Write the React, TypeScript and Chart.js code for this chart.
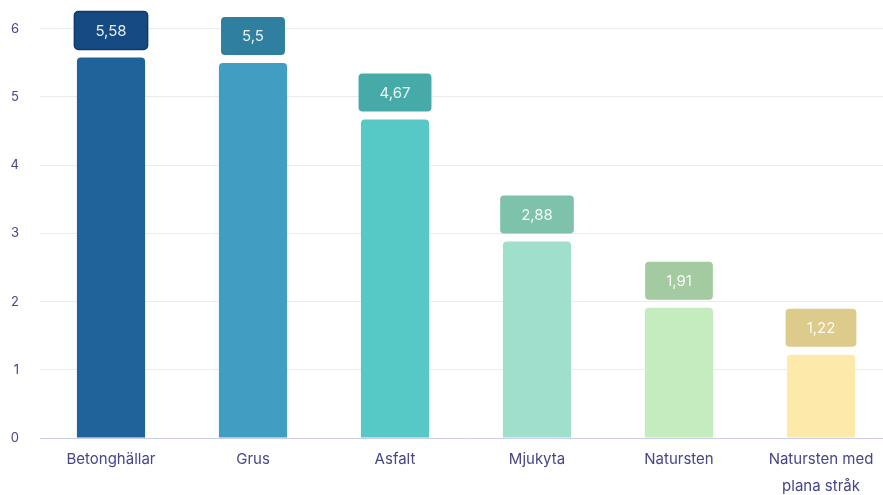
import React, { useEffect, useRef } from "react";
import { Chart, registerables } from "chart.js";

Chart.register(...registerables);

const categories: (string | string[])[] = [
  "Betonghällar",
  "Grus",
  "Asfalt",
  "Mjukyta",
  "Natursten",
  ["Natursten med", "plana stråk"],
];
const values = [5.58, 5.5, 4.67, 2.88, 1.91, 1.22];
const valueLabels = ["5,58", "5,5", "4,67", "2,88", "1,91", "1,22"];
const barColors = ["#20639b", "#3f9ec1", "#56c8c6", "#9fdfcb", "#c4ecbe", "#fde9a9"];
const boxColors = ["#164a82", "#2e7fa0", "#46aaa8", "#7fc2ac", "#a3caa0", "#dccb8a"];
const boxBorders = ["#0e3a6e", null, null, null, null, null];

const FONT = "Inter, 'Open Sans', sans-serif";
const TEXT_COLOR = "#45458a";

const labelPlugin = {
  id: "boxLabels",
  afterDatasetsDraw(chart: any) {
    const ctx = chart.ctx;
    const meta = chart.getDatasetMeta(0);
    ctx.save();
    ctx.font = `15px ${FONT}`;
    meta.data.forEach((el: any, i: number) => {
      const text = valueLabels[i];
      const tw = ctx.measureText(text).width;
      const w = tw + 42;
      const h = 38;
      const x = el.x - w / 2;
      const y = el.y - 8 - h;
      ctx.beginPath();
      ctx.roundRect(x, y, w, h, 4);
      ctx.fillStyle = boxColors[i];
      ctx.fill();
      const b = boxBorders[i];
      if (b) {
        ctx.lineWidth = 1.5;
        ctx.strokeStyle = b;
        ctx.stroke();
      }
      ctx.fillStyle = "rgba(255,255,255,0.9)";
      ctx.textAlign = "center";
      ctx.textBaseline = "middle";
      ctx.fillText(text, el.x, y + h / 2 + 1);
    });
    ctx.restore();
  },
};

export default function App() {
  const ref = useRef<HTMLCanvasElement>(null);
  useEffect(() => {
    if (!ref.current) return;
    const chart = new Chart(ref.current, {
      type: "bar",
      data: {
        labels: categories,
        datasets: [
          {
            data: values,
            backgroundColor: barColors,
            borderRadius: { topLeft: 4, topRight: 4, bottomLeft: 0, bottomRight: 0 },
            borderSkipped: false,
            categoryPercentage: 0.8,
            barPercentage: 0.6,
          },
        ],
      },
      options: {
        animation: false,
        responsive: true,
        maintainAspectRatio: false,
        layout: { padding: { top: 28, right: 8, left: 0, bottom: 0 } },
        plugins: { legend: { display: false }, tooltip: { enabled: false } },
        scales: {
          x: {
            grid: { display: false, drawTicks: false },
            border: { color: "#c9cdea", width: 1 },
            ticks: {
              color: TEXT_COLOR,
              font: { family: FONT, size: 15, lineHeight: 1.8 },
              padding: 8,
              maxRotation: 0,
              autoSkip: false,
            },
            afterFit(scale: any) {
              scale.height = 57;
            },
          },
          y: {
            min: 0,
            max: 6,
            grid: { color: "#ebebeb", drawTicks: false },
            border: { display: false },
            ticks: {
              stepSize: 1,
              color: TEXT_COLOR,
              font: { family: FONT, size: 13 },
              padding: 21,
            },
            afterFit(scale: any) {
              scale.width = 40;
            },
          },
        },
      },
      plugins: [labelPlugin],
    });
    return () => chart.destroy();
  }, []);
  return (
    <div
      style={{
        position: "fixed",
        left: 0,
        top: 0,
        width: 883,
        height: 495,
        overflow: "hidden",
        background: "#fff",
      }}
    >
      <div style={{ position: "relative", width: 900, height: 495 }}>
        <canvas ref={ref} />
      </div>
    </div>
  );
}
